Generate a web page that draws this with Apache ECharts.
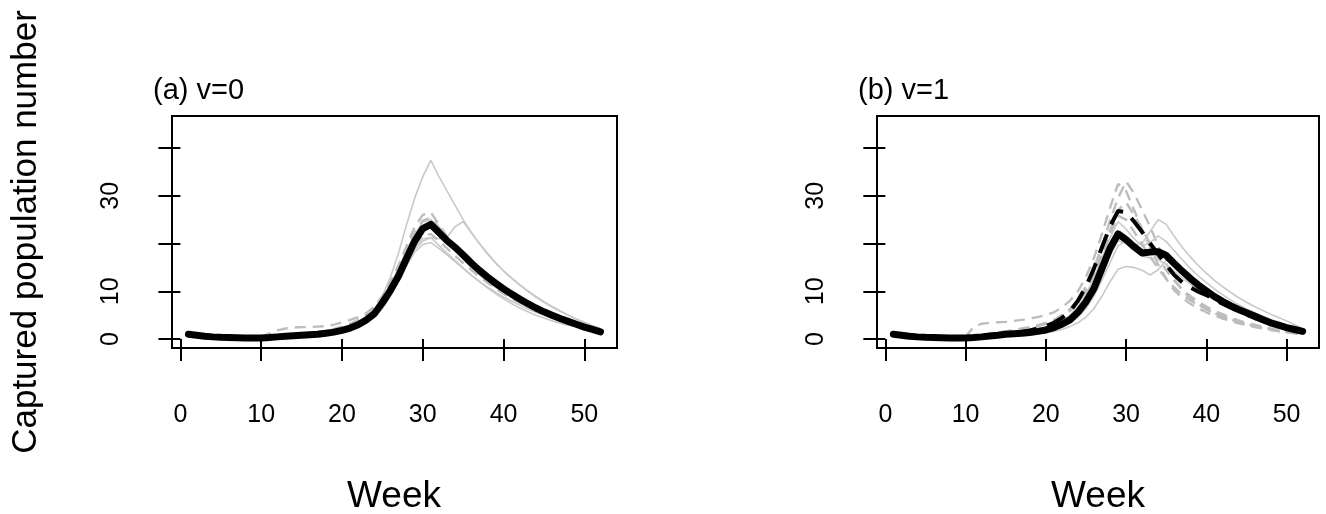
<!DOCTYPE html>
<html>
<head>
<meta charset="utf-8">
<script src="https://cdn.jsdelivr.net/npm/echarts@6/dist/echarts.min.js"></script>
<style>
  html, body { margin: 0; padding: 0; background: #fff; }
  #chart { width: 1326px; height: 514px; }
</style>
</head>
<body>
<div id="chart"></div>
<script>
// week numbers (x) for every run
const weeks = [1, 2, 3, 4, 5, 6, 7, 8, 9, 10, 11, 12, 13, 14, 15, 16, 17, 18, 19, 20,
  21, 22, 23, 24, 25, 26, 27, 28, 29, 30, 31, 32, 33, 34, 35, 36, 37, 38, 39, 40,
  41, 42, 43, 44, 45, 46, 47, 48, 49, 50, 51, 52]

const xTicks = [0, 10, 20, 30, 40, 50]
const yTicks = [0, 10, 20, 30, 40]
const yLabels = [0, 10, 30]

// (a) v=0
const meanA = [1.0, 0.8, 0.6, 0.45, 0.35, 0.3, 0.25, 0.2, 0.2, 0.2,
  0.3, 0.45, 0.6, 0.7, 0.8, 0.9, 1.0, 1.2, 1.45, 1.8,
  2.3, 3.0, 4.0, 5.3, 7.6, 10.2, 13.2, 16.9, 20.5, 23.1,
  24.0, 22.3, 20.6, 19.2, 17.6, 15.9, 14.4, 13.0, 11.7, 10.5,
  9.4, 8.4, 7.4, 6.5, 5.7, 5.0, 4.3, 3.7, 3.1, 2.5,
  2.0, 1.5]
const runA1 = [0.9, 0.7, 0.5, 0.4, 0.3, 0.25, 0.2, 0.2, 0.2, 0.2,
  0.3, 0.4, 0.5, 0.6, 0.7, 0.8, 0.9, 1.1, 1.4, 1.8,
  2.3, 3.0, 4.2, 6.0, 9.0, 13.0, 18.0, 24.0, 29.5, 34.0,
  37.4, 34.0, 31.0, 28.0, 25.0, 22.3, 20.0, 17.8, 15.9, 14.2,
  12.7, 11.3, 10.0, 8.8, 7.7, 6.7, 5.8, 5.0, 4.2, 3.5,
  2.8, 2.2]
const runA2 = [1.1, 0.9, 0.7, 0.5, 0.4, 0.3, 0.3, 0.25, 0.25, 0.3,
  0.4, 0.5, 0.7, 0.8, 0.9, 1.0, 1.1, 1.3, 1.6, 2.0,
  2.5, 3.2, 4.2, 5.5, 7.5, 10.0, 13.0, 16.0, 18.8, 20.5,
  21.2, 21.0, 21.3, 23.5, 24.6, 22.3, 20.0, 18.0, 16.0, 14.3,
  12.8, 11.4, 10.1, 8.9, 7.8, 6.8, 5.9, 5.0, 4.2, 3.4,
  2.7, 2.1]
const runA3 = [1.0, 0.8, 0.6, 0.5, 0.4, 0.35, 0.3, 0.3, 0.3, 0.4,
  1.2, 1.8, 2.2, 2.4, 2.5, 2.5, 2.6, 2.7, 3.0, 3.5,
  4.0, 4.6, 5.4, 6.8, 9.0, 12.0, 15.5, 19.5, 23.5, 26.0,
  26.5, 24.0, 21.5, 19.0, 17.0, 15.2, 13.6, 12.2, 11.0, 9.9,
  8.9, 8.0, 7.2, 6.4, 5.7, 5.0, 4.4, 3.8, 3.2, 2.7,
  2.2, 1.7]
const runA4 = [0.9, 0.7, 0.5, 0.4, 0.3, 0.25, 0.2, 0.2, 0.2, 0.2,
  0.3, 0.4, 0.5, 0.6, 0.7, 0.8, 0.9, 1.0, 1.2, 1.5,
  1.9, 2.5, 3.3, 4.5, 6.4, 9.0, 12.0, 15.3, 18.2, 19.8,
  20.2, 19.0, 17.6, 16.2, 14.8, 13.4, 12.1, 10.9, 9.8, 8.8,
  7.9, 7.1, 6.3, 5.6, 5.0, 4.4, 3.9, 3.4, 2.9, 2.5,
  2.0, 1.6]
const runA5 = [1.0, 0.8, 0.6, 0.5, 0.4, 0.3, 0.3, 0.3, 0.3, 0.3,
  0.4, 0.5, 0.6, 0.7, 0.9, 1.0, 1.2, 1.4, 1.7, 2.1,
  2.7, 3.5, 4.6, 6.2, 8.5, 11.4, 14.8, 18.6, 22.0, 24.5,
  25.0, 23.0, 21.0, 19.3, 17.6, 16.0, 14.5, 13.1, 11.8, 10.6,
  9.5, 8.5, 7.6, 6.7, 5.9, 5.2, 4.5, 3.9, 3.3, 2.7,
  2.2, 1.7]
const runA6 = [0.9, 0.7, 0.5, 0.4, 0.3, 0.3, 0.25, 0.25, 0.25, 0.3,
  0.4, 0.5, 0.6, 0.7, 0.8, 0.9, 1.0, 1.2, 1.5, 1.9,
  2.4, 3.1, 4.1, 5.5, 7.6, 10.3, 13.4, 16.8, 19.8, 21.6,
  22.0, 20.5, 19.0, 17.4, 15.9, 14.5, 13.1, 11.8, 10.6, 9.5,
  8.5, 7.6, 6.8, 6.0, 5.3, 4.7, 4.1, 3.5, 3.0, 2.5,
  2.0, 1.6]
const runA7 = [0.9, 0.7, 0.5, 0.4, 0.3, 0.25, 0.2, 0.2, 0.2, 0.2,
  0.3, 0.4, 0.5, 0.6, 0.7, 0.8, 0.9, 1.0, 1.2, 1.6,
  2.1, 2.8, 3.8, 5.2, 7.4, 10.0, 13.2, 16.5, 19.3, 21.0,
  21.2, 19.6, 18.0, 16.4, 14.9, 13.4, 12.0, 10.7, 9.5, 8.4,
  7.4, 6.5, 5.7, 5.0, 4.4, 3.8, 3.3, 2.9, 2.5, 2.1,
  1.7, 1.4]
const runA8 = [1.0, 0.8, 0.6, 0.5, 0.4, 0.3, 0.3, 0.3, 0.3, 0.3,
  0.4, 0.5, 0.7, 0.9, 1.1, 1.3, 1.5, 1.8, 2.1, 2.6,
  3.2, 4.0, 5.0, 6.5, 8.6, 11.4, 14.8, 18.6, 22.2, 24.8,
  25.4, 23.4, 21.0, 18.8, 17.0, 15.4, 13.9, 12.5, 11.2, 10.1,
  9.0, 8.0, 7.1, 6.3, 5.6, 4.9, 4.3, 3.7, 3.2, 2.7,
  2.2, 1.8]

// (b) v=1
const meanB = [1.0, 0.8, 0.6, 0.45, 0.35, 0.3, 0.25, 0.2, 0.2, 0.2,
  0.3, 0.45, 0.65, 0.8, 1.0, 1.1, 1.2, 1.35, 1.6, 1.9,
  2.4, 3.1, 4.0, 5.6, 7.8, 10.6, 14.8, 19.0, 22.0, 20.8,
  19.3, 18.0, 18.2, 18.3, 17.5, 15.8, 14.2, 12.7, 11.3, 10.1,
  8.9, 7.9, 7.0, 6.2, 5.5, 4.8, 4.1, 3.4, 2.9, 2.4,
  2.0, 1.6]
const dashB = [0.9, 0.7, 0.5, 0.4, 0.3, 0.25, 0.2, 0.2, 0.2, 0.2,
  0.3, 0.5, 0.7, 0.9, 1.1, 1.3, 1.5, 1.8, 2.2, 2.7,
  3.4, 4.4, 5.8, 8.0, 11.0, 14.8, 19.2, 23.6, 26.8, 26.6,
  24.6, 22.4, 20.0, 17.8, 15.5, 13.4, 11.9, 10.8, 9.9, 9.2,
  8.3, 7.4, 6.6, 5.8, 5.1, 4.4, 3.8, 3.2, 2.7, 2.2,
  1.8, 1.4]
const runB1 = [1.0, 0.8, 0.6, 0.5, 0.4, 0.3, 0.3, 0.3, 0.3, 0.5,
  2.5, 3.2, 3.4, 3.5, 3.6, 3.8, 4.0, 4.3, 4.6, 5.0,
  5.6, 6.6, 8.0, 10.0, 13.0, 17.0, 22.0, 27.5, 32.5, 31.0,
  27.0, 23.0, 19.2, 15.6, 12.6, 10.2, 8.6, 7.4, 6.4, 5.6,
  4.9, 4.3, 3.8, 3.3, 2.9, 2.5, 2.2, 1.9, 1.6, 1.4,
  1.2, 1.0]
const runB2 = [0.9, 0.7, 0.5, 0.4, 0.3, 0.25, 0.2, 0.2, 0.2, 0.3,
  0.5, 0.7, 1.0, 1.3, 1.6, 1.9, 2.2, 2.5, 2.9, 3.4,
  4.0, 5.0, 6.3, 8.2, 11.0, 14.8, 19.5, 24.8, 29.5, 33.0,
  30.5, 27.0, 23.5, 19.5, 15.8, 12.5, 10.2, 8.6, 7.3, 6.3,
  5.4, 4.7, 4.1, 3.6, 3.1, 2.7, 2.4, 2.1, 1.8, 1.5,
  1.3, 1.1]
const runB3 = [0.9, 0.7, 0.5, 0.4, 0.3, 0.3, 0.25, 0.25, 0.25, 0.3,
  0.4, 0.6, 0.9, 1.2, 1.5, 1.8, 2.1, 2.4, 2.8, 3.3,
  3.9, 4.8, 6.0, 7.8, 10.4, 13.8, 18.0, 22.8, 27.0, 28.6,
  26.0, 23.0, 20.0, 17.0, 14.4, 12.2, 10.4, 9.0, 7.8, 6.8,
  5.9, 5.2, 4.5, 3.9, 3.4, 3.0, 2.6, 2.2, 1.9, 1.6,
  1.3, 1.1]
const runB4 = [1.0, 0.8, 0.6, 0.45, 0.35, 0.3, 0.25, 0.2, 0.2, 0.2,
  0.3, 0.4, 0.6, 0.7, 0.8, 0.9, 1.0, 1.1, 1.3, 1.6,
  2.0, 2.6, 3.4, 4.6, 6.4, 9.0, 12.4, 16.0, 19.5, 20.5,
  19.8, 20.0, 22.5, 25.0, 24.0, 21.5, 19.2, 17.2, 15.4, 13.8,
  12.3, 11.0, 9.8, 8.7, 7.7, 6.8, 6.0, 5.2, 4.5, 3.8,
  3.0, 2.2]
const runB5 = [0.9, 0.7, 0.5, 0.4, 0.3, 0.25, 0.2, 0.2, 0.2, 0.2,
  0.3, 0.4, 0.5, 0.6, 0.7, 0.8, 0.9, 1.0, 1.1, 1.3,
  1.6, 2.0, 2.6, 3.4, 4.6, 6.4, 9.0, 12.0, 14.6, 15.2,
  15.0, 14.4, 13.4, 14.5, 16.5, 15.6, 14.2, 12.9, 11.6, 10.4,
  9.3, 8.3, 7.4, 6.5, 5.7, 5.0, 4.3, 3.7, 3.1, 2.6,
  2.1, 1.7]
const runB6 = [1.0, 0.8, 0.6, 0.5, 0.4, 0.3, 0.3, 0.3, 0.3, 0.3,
  0.4, 0.6, 0.8, 1.0, 1.1, 1.2, 1.4, 1.6, 1.9, 2.3,
  2.9, 3.8, 5.0, 6.8, 9.4, 12.8, 17.0, 21.2, 24.6, 23.0,
  21.0, 19.5, 20.2, 21.6, 20.4, 18.5, 16.6, 14.8, 13.2, 11.8,
  10.5, 9.3, 8.2, 7.2, 6.3, 5.5, 4.8, 4.1, 3.5, 2.9,
  2.3, 1.8]
const runB7 = [0.9, 0.7, 0.5, 0.4, 0.3, 0.25, 0.2, 0.2, 0.2, 0.2,
  0.3, 0.4, 0.6, 0.8, 0.9, 1.0, 1.1, 1.2, 1.4, 1.7,
  2.2, 2.9, 3.8, 5.2, 7.2, 10.0, 13.6, 17.4, 20.6, 20.0,
  18.6, 17.4, 17.0, 16.6, 15.6, 14.2, 12.8, 11.5, 10.3, 9.2,
  8.2, 7.3, 6.5, 5.7, 5.0, 4.4, 3.8, 3.2, 2.7, 2.2,
  1.8, 1.4]
const runB8 = [1.0, 0.8, 0.6, 0.5, 0.4, 0.3, 0.3, 0.3, 0.3, 0.3,
  0.5, 0.8, 1.1, 1.4, 1.6, 1.8, 2.0, 2.3, 2.7, 3.2,
  3.8, 4.7, 5.9, 7.6, 10.2, 13.6, 17.8, 22.0, 25.8, 25.0,
  22.5, 19.8, 17.2, 14.8, 12.6, 10.8, 9.3, 8.1, 7.1, 6.2,
  5.4, 4.7, 4.1, 3.6, 3.1, 2.7, 2.3, 2.0, 1.7, 1.4,
  1.2, 1.0]

// which grey runs are dashed
const runsA = [[runA1, false], [runA2, false], [runA3, true], [runA4, false],
  [runA5, false], [runA6, true], [runA7, false], [runA8, true]]
const runsB = [[runB1, true], [runB2, true], [runB3, true], [runB4, false],
  [runB5, false], [runB6, false], [runB7, false], [runB8, true]]

const FONT = 'Liberation Sans, Arial, sans-serif'

function pairs(values) {
  return weeks.map((w, i) => [w, values[i]])
}

function greySeries(runs, idx) {
  return runs.map(([values, dashed]) => ({
    type: 'line',
    xAxisIndex: idx,
    yAxisIndex: idx,
    data: pairs(values),
    showSymbol: false,
    silent: true,
    lineStyle: dashed
      ? { color: '#bdbdbd', width: 2.4, type: [11, 7] }
      : { color: '#c9c9c9', width: 1.6 },
  }))
}

function blackSeries(values, idx, dashed) {
  return {
    type: 'line',
    xAxisIndex: idx,
    yAxisIndex: idx,
    data: pairs(values),
    showSymbol: false,
    silent: true,
    z: 5,
    lineStyle: dashed
      ? { color: '#000', width: 4, type: [20, 11] }
      : { color: '#000', width: 7, cap: 'round', join: 'round' },
  }
}

function xAxis(idx) {
  return {
    type: 'value',
    gridIndex: idx,
    min: -1.04,
    max: 54.04,
    axisLine: { show: false },
    splitLine: { show: false },
    axisTick: { customValues: xTicks, length: 22, lineStyle: { color: '#000', width: 2 } },
    axisLabel: { customValues: xTicks, margin: 55, color: '#000', fontSize: 25, fontFamily: FONT },
  }
}

function yAxis(idx) {
  return {
    type: 'value',
    gridIndex: idx,
    min: -1.88,
    max: 46.7,
    axisLine: { show: false },
    splitLine: { show: false },
    axisTick: { customValues: yTicks, length: 22, lineStyle: { color: '#000', width: 2 } },
    axisLabel: { customValues: yLabels, rotate: 90, margin: 48, color: '#000', fontSize: 25, fontFamily: FONT },
  }
}

function text(str, x, y, size, rotation) {
  return {
    type: 'text',
    x: x,
    y: y,
    rotation: rotation || 0,
    style: { text: str, font: size + 'px ' + FONT, fill: '#000', align: 'center', verticalAlign: 'middle' },
  }
}

const chart = echarts.init(document.getElementById('chart'))
chart.setOption({
  animation: false,
  backgroundColor: '#fff',
  grid: [
    { left: 172, top: 116, width: 445, height: 232, show: true, borderColor: '#000', borderWidth: 2 },
    { left: 877, top: 116, width: 442, height: 232, show: true, borderColor: '#000', borderWidth: 2 },
  ],
  xAxis: [xAxis(0), xAxis(1)],
  yAxis: [yAxis(0), yAxis(1)],
  graphic: [
    text('Captured population number', 26, 232, 35, Math.PI / 2),
    text('Week', 394, 497, 37),
    text('Week', 1098, 497, 37),
    { type: 'text', x: 153, y: 91, style: { text: '(a) v=0', font: '29px ' + FONT, fill: '#000', verticalAlign: 'middle' } },
    { type: 'text', x: 858, y: 91, style: { text: '(b) v=1', font: '29px ' + FONT, fill: '#000', verticalAlign: 'middle' } },
  ],
  series: [
    ...greySeries(runsA, 0),
    blackSeries(meanA, 0, false),
    ...greySeries(runsB, 1),
    blackSeries(dashB, 1, true),
    blackSeries(meanB, 1, false),
  ],
})
</script>
</body>
</html>
